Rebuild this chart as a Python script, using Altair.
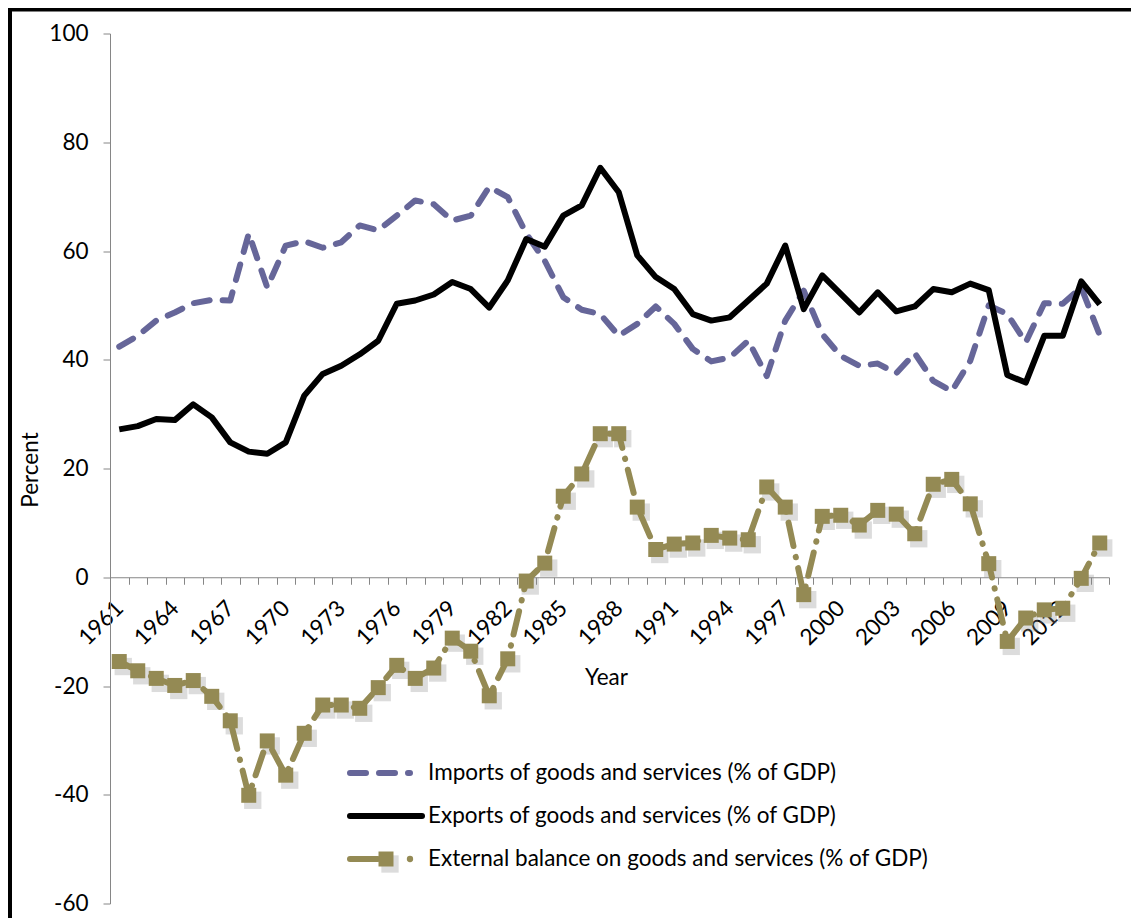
import altair as alt
import pandas as pd

# ---------------- data ----------------
years = list(range(1961, 2015))

imports = [42.4, 44.4, 47.2, 48.7, 50.4, 51.0, 50.9, 63.2, 53.3, 61.0,
           61.8, 60.6, 61.6, 64.7, 63.8, 66.5, 69.3, 68.6, 65.6, 66.5,
           71.8, 69.9, 63.2, 58.2, 51.5, 49.2, 48.4, 44.4, 46.6, 49.8,
           46.6, 42.0, 39.7, 40.4, 43.5, 37.0, 47.2, 52.7, 44.7, 40.7,
           38.9, 39.3, 37.5, 41.2, 36.1, 34.2, 39.8, 50.0, 48.4, 43.2,
           50.4, 50.3, 53.3, 44.5]

exports = [27.2, 27.8, 29.1, 28.9, 31.8, 29.4, 24.8, 23.1, 22.7, 24.8,
           33.4, 37.4, 38.9, 41.0, 43.5, 50.3, 50.9, 52.0, 54.3, 53.0,
           49.6, 54.6, 62.2, 60.8, 66.5, 68.4, 75.3, 70.8, 59.2, 55.2,
           53.0, 48.4, 47.2, 47.8, 50.9, 54.0, 61.0, 49.3, 55.5, 52.1,
           48.7, 52.4, 48.9, 49.8, 53.0, 52.4, 54.0, 52.8, 37.2, 35.8,
           44.4, 44.4, 54.4, 50.2]

balance = [-15.5, -17.2, -18.6, -19.9, -19.0, -21.9, -26.4, -40.1, -30.1, -36.4,
           -28.7, -23.5, -23.5, -24.1, -20.3, -16.2, -18.6, -16.7, -11.2, -13.6,
           -21.8, -15.0, -0.7, 2.6, 14.9, 19.0, 26.4, 26.4, 12.9, 5.1,
           6.1, 6.3, 7.7, 7.2, 6.9, 16.6, 12.9, -3.2, 11.2, 11.4,
           9.6, 12.3, 11.6, 8.0, 17.1, 18.0, 13.5, 2.5, -11.8, -7.5,
           -6.0, -5.7, -0.2, 6.3]

y_ticks = [-60, -40, -20, 0, 20, 40, 60, 80, 100]
legend_labels = ["Imports of goods and services (% of GDP)",
                 "Exports of goods and services (% of GDP)",
                 "External balance on goods and services (% of GDP)"]

df = pd.DataFrame({"Year": years, "Imports": imports,
                   "Exports": exports, "Balance": balance})

# ---------------- styling ----------------
FONT = "Lato"
FS = 22.5
IMP_COLOR = "#666699"
BAL_COLOR = "#948A54"
AXIS_GRAY = "#868686"

xscale = alt.Scale(domain=[years[0] - 0.5, years[-1] + 0.5], nice=False, zero=False)
yscale = alt.Scale(domain=[y_ticks[0], y_ticks[-1]], nice=False, zero=False)

boundaries = [years[0] - 0.5 + i for i in range(len(years) + 1)]

x_axis = alt.Axis(
    values=boundaries, tickSize=7, tickColor=AXIS_GRAY, domainColor=AXIS_GRAY,
    grid=False,
    labelExpr="((datum.value + 0.5 - 1961) % 3 == 0 && datum.value < 2013) ? format(datum.value + 0.5, 'd') : ''",
    labelOffset=9.25, labelAngle=-45, labelAlign="right", labelBaseline="middle",
    labelPadding=20, labelFont=FONT, labelFontSize=FS, labelColor="black",
    labelOverlap=False, labelFlush=False, labelBound=False,
    offset=-326.25,
    title="Year", titleFont=FONT, titleFontSize=FS, titleFontWeight="normal",
    titleColor="black", titleX=496, titleY=100, titleAlign="center",
    titleBaseline="middle")

y_axis = alt.Axis(
    values=y_ticks, tickSize=7, tickColor=AXIS_GRAY, domainColor=AXIS_GRAY,
    grid=False, labelFont=FONT, labelFontSize=FS, labelColor="black",
    labelPadding=15,
    labelExpr="datum.value < 0 ? '-' + abs(datum.value) : '' + datum.value",
    title="Percent", titleFont=FONT, titleFontSize=FS, titleFontWeight="normal",
    titleColor="black", titleX=-80, titleY=436, titleAngle=270,
    titleAlign="center", titleBaseline="middle")

base = alt.Chart(df).encode(x=alt.X("Year:Q", scale=xscale, axis=x_axis))

imp = base.mark_line(color=IMP_COLOR, strokeWidth=6, strokeDash=[16, 13],
                     strokeCap="round", strokeJoin="round").encode(
    y=alt.Y("Imports:Q", scale=yscale, axis=y_axis))
exp = base.mark_line(color="black", strokeWidth=6, strokeJoin="round").encode(
    y=alt.Y("Exports:Q", scale=yscale, axis=y_axis))
bal_shadow = base.mark_point(shape="square", filled=True, size=300, color="#8c8c8c",
                             opacity=0.3, xOffset=4, yOffset=5).encode(
    y=alt.Y("Balance:Q", scale=yscale, axis=y_axis))
bal_line = base.mark_line(color=BAL_COLOR, strokeWidth=6, strokeDash=[24, 11, 0.5, 11],
                          strokeCap="round").encode(
    y=alt.Y("Balance:Q", scale=yscale, axis=y_axis))
bal_pts = base.mark_point(shape="square", filled=True, size=225, color=BAL_COLOR,
                          opacity=1).encode(
    y=alt.Y("Balance:Q", scale=yscale, axis=y_axis))

# ---------------- frame & legend (decoration) ----------------
one = alt.Chart(pd.DataFrame({"d": [0]}))
frame = one.mark_rect(fill="transparent", stroke="black", strokeWidth=4).encode(
    x=alt.value(-100), x2=alt.value(1300), y=alt.value(-24), y2=alt.value(1100))

ly = [739.5, 782.5, 825.5]
leg_imp = one.mark_rule(color=IMP_COLOR, strokeWidth=6, strokeDash=[16, 13],
                        strokeCap="round").encode(
    x=alt.value(240), x2=alt.value(300), y=alt.value(ly[0]))
leg_exp = one.mark_rule(color="black", strokeWidth=6, strokeCap="round").encode(
    x=alt.value(240), x2=alt.value(312), y=alt.value(ly[1]))
leg_bal = one.mark_rule(color=BAL_COLOR, strokeWidth=6, strokeCap="round").encode(
    x=alt.value(240), x2=alt.value(268), y=alt.value(ly[2]))
leg_bal_sh = one.mark_point(shape="square", filled=True, size=300, color="#8c8c8c",
                            opacity=0.3, xOffset=4, yOffset=5).encode(
    x=alt.value(276), y=alt.value(ly[2]))
leg_bal_sq = one.mark_point(shape="square", filled=True, size=225, color=BAL_COLOR,
                            opacity=1).encode(x=alt.value(276), y=alt.value(ly[2]))
leg_bal_dot = one.mark_point(shape="circle", filled=True, size=40, color=BAL_COLOR,
                             opacity=1).encode(x=alt.value(300), y=alt.value(ly[2]))
leg_texts = [one.mark_text(align="left", baseline="middle", font=FONT, fontSize=FS,
                           color="black").encode(
    x=alt.value(318), y=alt.value(yy), text=alt.value(t))
    for yy, t in zip(ly, legend_labels)]

chart = alt.layer(
    frame, imp, exp, bal_shadow, bal_line, bal_pts,
    leg_imp, leg_exp, leg_bal_sh, leg_bal, leg_bal_sq, leg_bal_dot, *leg_texts
).properties(
    width=999, height=870, autosize="none",
    padding={"left": 102, "top": 25.5, "right": 22, "bottom": 14},
    background="white"
).configure_view(stroke=None)

chart.save("out.html", embed_options={"renderer": "svg", "actions": False})
